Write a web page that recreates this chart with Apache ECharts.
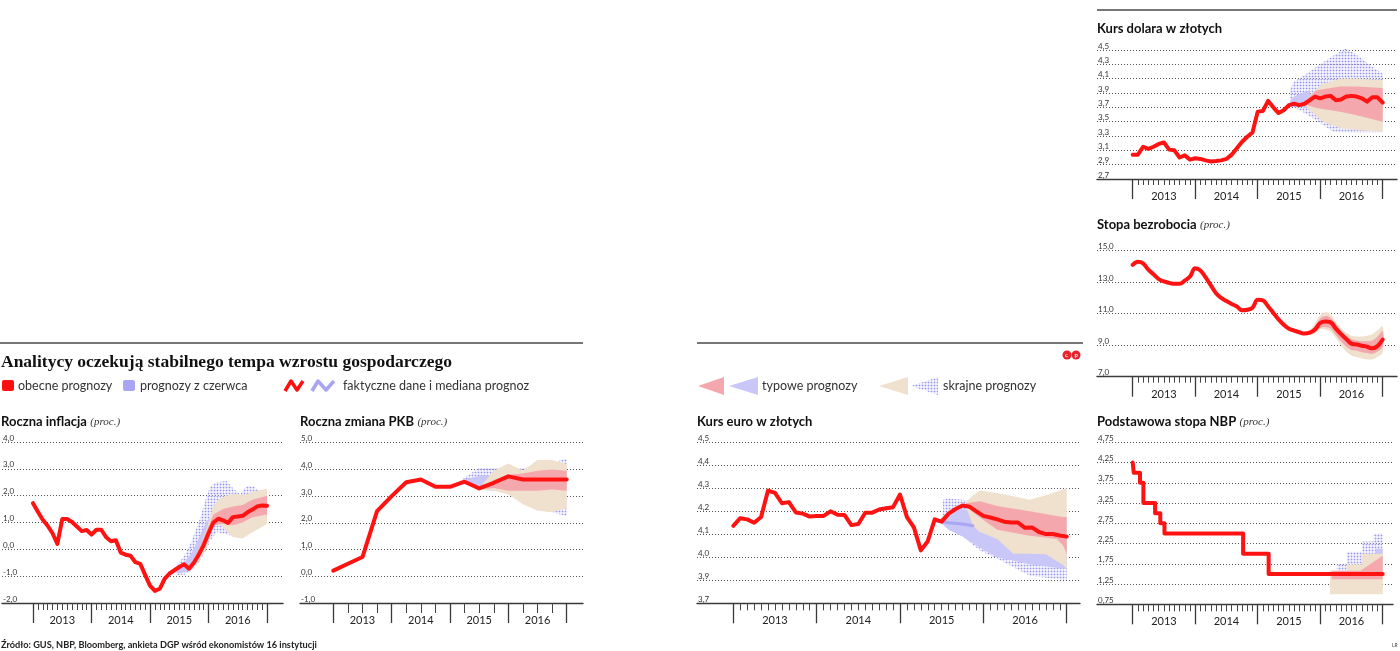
<!DOCTYPE html>
<html><head><meta charset="utf-8">
<script src="https://cdn.jsdelivr.net/npm/echarts@6/dist/echarts.min.js"></script>
<style>html,body{margin:0;padding:0;background:#fff}#c{width:1400px;height:651px}</style>
</head><body><div id="c"></div>
<script>
// ---------------- DATA ----------------
const years = ['2013', '2014', '2015', '2016'];

// Roczna inflacja (monthly, index 0 = Jan 2013)
const inflTicks = ['-2,0', '-1,0', '0,0', '1,0', '2,0', '3,0', '4,0'];
const inflValues = [1.72, 1.4, 1.1, 0.88, 0.6, 0.2, 1.13, 1.13, 1.02, 0.85, 0.68, 0.72, 0.55, 0.73, 0.73, 0.45, 0.3, 0.34,
  -0.12, -0.2, -0.24, -0.48, -0.54, -0.95, -1.35, -1.55, -1.47, -1.1, -0.9, -0.78, -0.66, -0.56, -0.72,
  -0.5, -0.2, 0.15, 0.6, 1.0, 1.14, 1.08, 0.98, 1.2, 1.22, 1.25, 1.38, 1.48, 1.6, 1.63, 1.62];
const inflExtJuneX = [29.5, 31, 32.5, 34.2, 35.6, 36.3, 37.7, 39.7, 41.1, 42.5, 43.8, 45.2, 46.2];
const inflExtJuneHi = [-0.6, -0.25, 0.28, 1.12, 1.96, 2.33, 2.5, 2.55, 2.27, 2.05, 2.35, 2.35, 2.2];
const inflExtJuneLo = [-0.95, -0.95, -0.8, -0.45, 0.0, 0.3, 0.65, 0.55, 0.5, 0.5, 0.65, 0.8, 0.9];
const inflTypJuneX = [29.5, 31, 32.5, 34, 35.5, 37];
const inflTypJuneHi = [-0.7, -0.5, -0.15, 0.4, 1.0, 1.3];
const inflTypJuneLo = [-0.9, -0.85, -0.75, -0.4, 0.1, 0.8];
const inflExtNowX = [32, 33.6, 35.6, 37, 38.4, 41, 43, 45, 48];
const inflExtNowHi = [-0.72, -0.2, 0.76, 1.6, 1.9, 2.08, 2.02, 2.14, 2.26];
const inflExtNowLo = [-0.72, -0.57, 0.04, 0.88, 0.94, 0.46, 0.4, 0.64, 0.94];
const inflTypNowX = [32, 33, 35, 37, 39, 41, 43, 45, 48];
const inflTypNowHi = [-0.72, -0.35, 0.4, 1.3, 1.5, 1.6, 1.65, 1.85, 2.0];
const inflTypNowLo = [-0.72, -0.6, 0.0, 0.9, 0.95, 0.9, 1.0, 1.2, 1.3];

// Roczna zmiana PKB (quarterly, index 0 = Q1 2013)
const pkbTicks = ['-1,0', '0,0', '1,0', '2,0', '3,0', '4,0', '5,0'];
const pkbValues = [0.21, 0.47, 0.72, 2.44, 3.0, 3.52, 3.62, 3.35, 3.35, 3.54, 3.29, 3.5, 3.74, 3.62, 3.62, 3.62, 3.62];
const pkbExtJuneX = [8.5, 9, 10, 11, 12, 13, 14, 15, 16];
const pkbExtJuneHi = [3.45, 3.7, 4.05, 4.05, 4.05, 4.05, 4.1, 4.25, 4.4];
const pkbExtJuneLo = [3.45, 3.45, 3.25, 3.2, 3.2, 2.9, 2.5, 2.4, 2.25];
const pkbTypJuneX = [8.5, 9, 10, 11];
const pkbTypJuneHi = [3.45, 3.62, 3.75, 3.8];
const pkbTypJuneLo = [3.45, 3.45, 3.3, 3.3];
const pkbExtNowX = [10, 11, 12, 13, 14, 15, 16];
const pkbExtNowHi = [3.3, 3.95, 4.22, 3.95, 4.35, 4.35, 4.2];
const pkbExtNowLo = [3.25, 3.2, 3.06, 2.7, 2.45, 2.4, 2.55];
const pkbTypNowX = [10, 11, 12, 13, 14, 15, 16];
const pkbTypNowHi = [3.3, 3.6, 3.8, 3.85, 3.95, 4.0, 3.95];
const pkbTypNowLo = [3.25, 3.3, 3.2, 3.2, 3.2, 3.25, 3.2];

// Kurs euro w złotych (monthly)
const euroTicks = ['3,7', '3,9', '4,0', '4,1', '4,2', '4,3', '4,4', '4,5'];
const euroValues = [4.137, 4.17, 4.165, 4.15, 4.175, 4.29, 4.28, 4.235, 4.24, 4.195, 4.19, 4.177, 4.18, 4.18, 4.2, 4.185,
  4.184, 4.14, 4.145, 4.194, 4.194, 4.208, 4.213, 4.218, 4.273, 4.175, 4.13, 4.03, 4.07, 4.165, 4.155, 4.19,
  4.21, 4.225, 4.22, 4.2, 4.18, 4.173, 4.165, 4.155, 4.151, 4.151, 4.128, 4.13, 4.11, 4.101, 4.101, 4.095, 4.09];
const euroExtJuneX = [30.2, 31, 33, 35.5, 38, 42.7, 48];
const euroExtJuneHi = [4.25, 4.255, 4.25, 4.24, 4.24, 4.24, 4.1];
const euroExtJuneLo = [4.15, 4.12, 4.09, 4.03, 3.994, 3.92, 3.9];
const euroTypJuneX = [29.5, 31, 33, 35, 38, 42.7, 47.5, 48];
const euroTypJuneHi = [4.16, 4.2, 4.21, 4.2, 4.15, 4.1, 4.05, 4.05];
const euroTypJuneLo = [4.16, 4.12, 4.09, 4.05, 4.0, 3.97, 3.95, 3.95];
const euroMedJuneX = [29.3, 31, 33, 34.5];
const euroMedJuneY = [4.158, 4.15, 4.145, 4.137];
const euroExtNowX = [33.5, 34.5, 35.5, 38, 40.3, 42.7, 45, 47.5, 48];
const euroExtNowHi = [4.24, 4.27, 4.29, 4.28, 4.265, 4.25, 4.27, 4.295, 4.3];
const euroExtNowLo = [4.22, 4.137, 4.11, 4.08, 4.015, 4.015, 4.013, 3.965, 3.95];
const euroTypNowX = [33.5, 35.5, 38, 42.7, 46.6, 47.5, 48];
const euroTypNowHi = [4.235, 4.244, 4.223, 4.2, 4.18, 4.175, 4.175];
const euroTypNowLo = [4.22, 4.173, 4.12, 4.094, 4.08, 4.05, 4.015];

// Podstawowa stopa NBP (step line, month index of each change)
const nbpTicks = ['0,75', '1,25', '1,75', '2,25', '2,75', '3,25', '3,75', '4,25', '4,75'];
const nbpMonths = [0, 0.2, 1.4, 2.05, 4.3, 5.3, 6.1, 21.2, 26.1, 48];
const nbpRates = [4.25, 4.0, 3.75, 3.25, 3.0, 2.75, 2.5, 2.0, 1.5, 1.5];
const nbpExtJuneX = [39.2, 41.1, 41.1, 44, 44, 46.2, 46.2, 48];
const nbpExtJuneHi = [1.75, 1.75, 2.05, 2.05, 2.3, 2.3, 2.5, 2.5];
const nbpExtJuneLo = [1.5, 1.5, 1.5, 1.5, 1.5, 1.5, 1.5, 1.5];
const nbpTypJuneX = [46.6, 48];
const nbpTypJuneHi = [2.12, 2.12];
const nbpTypJuneLo = [1.98, 1.98];
const nbpExtNowX = [37.9, 41.1, 41.1, 44, 44, 48];
const nbpExtNowHi = [1.58, 1.58, 1.73, 1.73, 2.0, 2.0];
const nbpExtNowLo = [1.0, 1.0, 1.0, 1.0, 1.0, 1.0];
const nbpTypNowX = [38.2, 43.7, 48];
const nbpTypNowHi = [1.58, 1.58, 1.95];
const nbpTypNowLo = [1.37, 1.37, 1.37];

// Kurs dolara w złotych (monthly)
const usdTicks = ['2,7', '2,9', '3,1', '3,3', '3,5', '3,7', '3,9', '4,1', '4,3', '4,5'];
const usdValues = [3.04, 3.04, 3.15, 3.12, 3.15, 3.19, 3.21, 3.11, 3.10, 3.0, 3.03, 2.97, 2.99, 2.98, 2.96, 2.945, 2.95,
  2.96, 2.98, 3.04, 3.13, 3.22, 3.29, 3.35, 3.64, 3.65, 3.79, 3.70, 3.62, 3.66, 3.73, 3.75, 3.73, 3.75, 3.8,
  3.85, 3.826, 3.85, 3.86, 3.8, 3.81, 3.85, 3.86, 3.85, 3.826, 3.78, 3.84, 3.84, 3.765];
const usdExtJuneX = [30.2, 31, 33, 36, 38.5, 40.8, 42, 44, 46, 48];
const usdExtJuneHi = [3.95, 4.06, 4.15, 4.3, 4.42, 4.52, 4.48, 4.38, 4.27, 4.17];
const usdExtJuneLo = [3.71, 3.7, 3.62, 3.48, 3.36, 3.35, 3.35, 3.35, 3.35, 3.35];
const usdTypJuneX = [30.2, 31, 32.5, 34];
const usdTypJuneHi = [3.78, 3.85, 3.9, 3.94];
const usdTypJuneLo = [3.74, 3.72, 3.7, 3.68];
const usdExtNowX = [33, 34, 36.5, 39.8, 43, 48];
const usdExtNowHi = [3.75, 3.86, 4.03, 4.1, 4.1, 4.08];
const usdExtNowLo = [3.75, 3.66, 3.5, 3.41, 3.38, 3.36];
const usdTypNowX = [33, 34, 35.3, 39.8, 43, 48];
const usdTypNowHi = [3.75, 3.85, 3.94, 3.99, 3.99, 3.97];
const usdTypNowLo = [3.75, 3.72, 3.69, 3.64, 3.59, 3.5];

// Stopa bezrobocia (monthly)
const unempTicks = ['7,0', '9,0', '11,0', '13,0', '15,0'];
const unempValues = [14.1, 14.3, 14.2, 13.8, 13.5, 13.2, 13.05, 12.96, 12.9, 12.9, 13.1, 13.36, 13.88, 13.75, 13.3, 12.8,
  12.3, 12.0, 11.8, 11.62, 11.46, 11.22, 11.25, 11.38, 11.88, 11.84, 11.46, 11.05, 10.64, 10.3, 10.05, 9.93,
  9.82, 9.74, 9.8, 10.0, 10.41, 10.5, 10.45, 10.05, 9.7, 9.4, 9.1, 9.04, 8.97, 8.9, 8.8, 8.94, 9.36];
const unempExtNowX = [34, 35, 36, 37, 38, 39, 40, 41, 42, 43, 44, 45, 46, 47, 48];
const unempExtNowHi = [9.85, 10.4, 10.9, 11.1, 10.95, 10.5, 10.1, 9.8, 9.6, 9.55, 9.55, 9.6, 9.7, 9.95, 10.2];
const unempExtNowLo = [9.7, 9.75, 10.0, 10.0, 9.85, 9.45, 9.0, 8.6, 8.35, 8.25, 8.15, 8.1, 8.1, 8.25, 8.55];
const unempTypNowX = [34, 35, 36, 37, 38, 39, 40, 41, 42, 43, 44, 45, 46, 47, 48];
const unempTypNowHi = [9.85, 10.2, 10.7, 10.85, 10.75, 10.35, 9.95, 9.6, 9.4, 9.3, 9.25, 9.25, 9.3, 9.55, 9.9];
const unempTypNowLo = [9.75, 9.85, 10.1, 10.15, 10.05, 9.65, 9.25, 8.9, 8.7, 8.65, 8.55, 8.5, 8.45, 8.6, 8.9];

// ---------------- STYLE ----------------
const RED = '#ff1212', PINK = '#f4a8ae', BEIGE = '#efe1cd', LAV = '#c9c6f8', LAVLINE = '#a9a6f2';
const SANS = 'Lato';

function makeDots() {
  const c = document.createElement('canvas');
  c.width = 3; c.height = 3;
  const g = c.getContext('2d');
  g.fillStyle = 'rgba(218,217,250,0.35)';
  g.fillRect(0, 0, 3, 3);
  g.fillStyle = 'rgba(128,125,234,0.8)';
  g.fillRect(1, 1, 1, 1);
  g.fillStyle = 'rgba(150,148,240,0.28)';
  g.fillRect(0, 1, 1, 1); g.fillRect(1, 0, 1, 1); g.fillRect(2, 1, 1, 1); g.fillRect(1, 2, 1, 1);
  return c;
}
const DOTS = { image: makeDots(), repeat: 'repeat' };

// panel layout: frame [left, top, width, height], tick span [x0, x1]
const panels = [
  { frame: [0, 442, 283, 161], ticks: [33, 267], y: [-2, 4, 1], labels: inflTicks, n: 48, major: 12, minorLen: 7 },
  { frame: [300, 442.7, 283, 160.3], ticks: [333.3, 566.7], y: [-1, 5, 1], labels: pkbTicks, n: 16, major: 4, minorLen: 10 },
  { frame: [697, 442.3, 383, 161], ticks: [733.3, 1066.7], y: [3.8, 4.5, 0.1], labels: euroTicks, n: 48, major: 12, minorLen: 7 },
  { frame: [1097, 442.3, 296, 162], ticks: [1132.7, 1382.7], y: [0.75, 4.75, 0.5], labels: nbpTicks, n: 48, major: 12, minorLen: 7 },
  { frame: [1097, 50, 300, 129], ticks: [1132.7, 1382.7], y: [2.7, 4.5, 0.2], labels: usdTicks, n: 48, major: 12, minorLen: 6 },
  { frame: [1097, 250.7, 300, 126], ticks: [1132.7, 1382.7], y: [7, 15, 2], labels: unempTicks, n: 48, major: 12, minorLen: 6 }
];

const grid = [], xAxis = [], yAxis = [], series = [];
panels.forEach((p, i) => {
  const [L, T, W, H] = p.frame;
  const [ymin, ymax, yint] = p.y;
  grid.push({ left: L, top: T, width: W, height: H, containLabel: false });
  grid.push({ left: p.ticks[0], top: T, width: p.ticks[1] - p.ticks[0], height: H, containLabel: false });
  xAxis.push({ type: 'value', gridIndex: 2 * i, min: 0, max: 1, position: 'bottom',
    axisLine: { show: true, onZero: false, lineStyle: { color: '#3a3a3a', width: 1.4 } },
    axisTick: { show: false }, axisLabel: { show: false }, splitLine: { show: false } });
  xAxis.push({ type: 'value', gridIndex: 2 * i + 1, min: 0, max: p.n, interval: p.major, position: 'bottom',
    axisLine: { show: false, onZero: false },
    axisTick: { show: true, length: 20, lineStyle: { color: '#3a3a3a', width: 1.3 } },
    minorTick: { show: true, splitNumber: p.major, length: p.minorLen, lineStyle: { color: '#444', width: 1 } },
    axisLabel: { show: false }, splitLine: { show: false }, minorSplitLine: { show: false } });
  xAxis.push({ type: 'category', gridIndex: 2 * i + 1, data: years, position: 'bottom', offset: 0, boundaryGap: true,
    axisLine: { show: false, onZero: false }, axisTick: { show: false },
    axisLabel: { margin: 12, fontSize: 11, color: '#222', fontFamily: SANS } });
  yAxis.push({ type: 'value', gridIndex: 2 * i, min: ymin, max: ymax, interval: yint,
    axisLine: { show: false }, axisTick: { show: false },
    splitLine: { show: true, lineStyle: { type: [1, 2], color: '#555', width: 1 } },
    axisLabel: { inside: true, align: 'left', verticalAlign: 'bottom', margin: 1, fontSize: 8, color: '#333',
      fontFamily: SANS, formatter: v => p.labels[Math.round((v - ymin) / yint)] || '' } });
  yAxis.push({ type: 'value', gridIndex: 2 * i + 1, min: ymin, max: ymax, show: false });
});

function band(i, X, Lo, Hi, fill, z, smooth) {
  series.push({
    type: 'custom', xAxisIndex: 3 * i + 1, yAxisIndex: 2 * i + 1, z: z, silent: true, clip: false, animation: false,
    data: X.map((x, k) => [x, Lo[k], Hi[k]]),
    encode: { x: 0, y: [1, 2] },
    renderItem: (params, api) => {
      if (params.dataIndex !== 0) return null;
      const top = X.map((x, k) => api.coord([x, Hi[k]]));
      const bot = X.map((x, k) => api.coord([x, Lo[k]])).reverse();
      return { type: 'polygon', shape: { points: top.concat(bot), smooth: smooth ? 0.35 : 0 },
        style: { fill: fill, stroke: null } };
    }
  });
}
function line(i, X, Y, color, width, z, extra) {
  series.push(Object.assign({
    type: 'line', xAxisIndex: 3 * i + 1, yAxisIndex: 2 * i + 1, z: z, silent: true, clip: false, animation: false,
    data: X.map((x, k) => [x, Y[k]]), symbol: 'none', showSymbol: false,
    lineStyle: { color: color, width: width, join: 'round', cap: 'round' }
  }, extra || {}));
}
const idx = arr => arr.map((_, k) => k);

// Panel 0: inflation
band(0, inflExtJuneX, inflExtJuneLo, inflExtJuneHi, DOTS, 1);
band(0, inflTypJuneX, inflTypJuneLo, inflTypJuneHi, LAV, 2);
band(0, inflExtNowX, inflExtNowLo, inflExtNowHi, BEIGE, 3);
band(0, inflTypNowX, inflTypNowLo, inflTypNowHi, PINK, 4);
line(0, idx(inflValues), inflValues, RED, 4, 10);
// Panel 1: PKB
band(1, pkbExtJuneX, pkbExtJuneLo, pkbExtJuneHi, DOTS, 1);
band(1, pkbTypJuneX, pkbTypJuneLo, pkbTypJuneHi, LAV, 2);
band(1, pkbExtNowX, pkbExtNowLo, pkbExtNowHi, BEIGE, 3);
band(1, pkbTypNowX, pkbTypNowLo, pkbTypNowHi, PINK, 4);
line(1, idx(pkbValues), pkbValues, RED, 4, 10);
// Panel 2: EUR
band(2, euroExtJuneX, euroExtJuneLo, euroExtJuneHi, DOTS, 1);
band(2, euroTypJuneX, euroTypJuneLo, euroTypJuneHi, LAV, 2);
band(2, euroExtNowX, euroExtNowLo, euroExtNowHi, BEIGE, 3);
band(2, euroTypNowX, euroTypNowLo, euroTypNowHi, PINK, 4);
line(2, euroMedJuneX, euroMedJuneY, LAVLINE, 3, 5);
line(2, idx(euroValues), euroValues, RED, 4, 10);
// Panel 3: NBP
band(3, nbpExtJuneX, nbpExtJuneLo, nbpExtJuneHi, DOTS, 1);
band(3, nbpTypJuneX, nbpTypJuneLo, nbpTypJuneHi, LAV, 2);
band(3, nbpExtNowX, nbpExtNowLo, nbpExtNowHi, BEIGE, 3);
band(3, nbpTypNowX, nbpTypNowLo, nbpTypNowHi, PINK, 4);
line(3, nbpMonths, nbpRates, RED, 4, 10, { step: 'end' });
// Panel 4: USD
band(4, usdExtJuneX, usdExtJuneLo, usdExtJuneHi, DOTS, 1);
band(4, usdTypJuneX, usdTypJuneLo, usdTypJuneHi, LAV, 2);
band(4, usdExtNowX, usdExtNowLo, usdExtNowHi, BEIGE, 3);
band(4, usdTypNowX, usdTypNowLo, usdTypNowHi, PINK, 4);
line(4, idx(usdValues), usdValues, RED, 4, 10);
// Panel 5: unemployment
band(5, unempExtNowX, unempExtNowLo, unempExtNowHi, BEIGE, 3, true);
band(5, unempTypNowX, unempTypNowLo, unempTypNowHi, PINK, 4, true);
line(5, idx(unempValues), unempValues, RED, 4, 10, { smooth: 0.4 });

// ---------------- TEXT & DECOR ----------------
function title(x, y, main, sub) {
  return { type: 'text', x: x, y: y, silent: true, style: {
    text: sub ? '{a|' + main + '} {b|' + sub + '}' : '{a|' + main + '}',
    verticalAlign: 'middle',
    rich: {
      a: { fontFamily: SANS, fontWeight: 'bold', fontSize: 13, fill: '#111', color: '#111' },
      b: { fontFamily: 'Liberation Serif', fontStyle: 'italic', fontSize: 11, fill: '#333', color: '#333' }
    } } };
}
function txt(x, y, s, size, extra) {
  return { type: 'text', x: x, y: y, silent: true, style: Object.assign({ text: s, fontFamily: SANS, fontSize: size,
    fill: '#333', verticalAlign: 'middle' }, extra || {}) };
}
const graphics = [
  { type: 'line', silent: true, shape: { x1: 0, y1: 343, x2: 583, y2: 343 }, style: { stroke: '#777', lineWidth: 2 } },
  { type: 'line', silent: true, shape: { x1: 697, y1: 343, x2: 1083, y2: 343 }, style: { stroke: '#777', lineWidth: 2 } },
  { type: 'line', silent: true, shape: { x1: 1097, y1: 10, x2: 1397, y2: 10 }, style: { stroke: '#777', lineWidth: 2 } },
  txt(1, 362, 'Analitycy oczekują stabilnego tempa wzrostu gospodarczego', 17.5,
    { fontFamily: 'Liberation Serif', fontWeight: 'bold', fill: '#111' }),
  // legend left
  { type: 'rect', silent: true, shape: { x: 2, y: 380, width: 12, height: 11, r: 2 }, style: { fill: '#ff1010' } },
  txt(18, 386, 'obecne prognozy', 12.5),
  { type: 'rect', silent: true, shape: { x: 123, y: 380, width: 12, height: 11, r: 2 }, style: { fill: '#a9a5f5' } },
  txt(140, 386, 'prognozy z czerwca', 12.5),
  { type: 'polyline', silent: true, shape: { points: [[285, 391], [291, 381], [297, 390], [303, 381]] },
    style: { stroke: '#ff1010', lineWidth: 3.5, fill: null, lineJoin: 'round' } },
  { type: 'polyline', silent: true, shape: { points: [[312, 391], [318, 381], [326, 390], [334, 381]] },
    style: { stroke: '#a9a5f5', lineWidth: 3.5, fill: null, lineJoin: 'round' } },
  txt(343, 386, 'faktyczne dane i mediana prognoz', 12.5),
  // legend right
  { type: 'polygon', silent: true, shape: { points: [[698, 386], [724, 377], [724, 395]] }, style: { fill: PINK } },
  { type: 'polygon', silent: true, shape: { points: [[729, 386], [758, 377], [758, 395]] }, style: { fill: LAV } },
  txt(762, 386, 'typowe prognozy', 12.5),
  { type: 'polygon', silent: true, shape: { points: [[879, 386], [908, 377], [908, 395]] }, style: { fill: BEIGE } },
  { type: 'polygon', silent: true, shape: { points: [[911, 386], [938, 377], [938, 395]] }, style: { fill: DOTS } },
  txt(943, 386, 'skrajne prognozy', 12.5),
  // logo
  { type: 'circle', silent: true, shape: { cx: 1067, cy: 355, r: 4.5 }, style: { fill: '#e8232c' } },
  { type: 'circle', silent: true, shape: { cx: 1076, cy: 355, r: 4.5 }, style: { fill: '#e8232c' } },
  txt(1065, 355, 'c', 6, { fill: '#fff', fontWeight: 'bold' }),
  txt(1074.5, 355, 'p', 6, { fill: '#fff', fontWeight: 'bold' }),
  // panel titles
  title(1, 422, 'Roczna inflacja', '(proc.)'),
  title(300, 422, 'Roczna zmiana PKB', '(proc.)'),
  title(697, 422, 'Kurs euro w złotych', null),
  title(1097, 422, 'Podstawowa stopa NBP', '(proc.)'),
  title(1097, 29, 'Kurs dolara w złotych', null),
  title(1097, 225, 'Stopa bezrobocia', '(proc.)'),
  // footer
  txt(1, 645, 'Źródło: GUS, NBP, Bloomberg, ankieta DGP wśród ekonomistów 16 instytucji', 9.2, { fontWeight: 'bold', fill: '#222' }),
  txt(1392, 645, 'LR', 5, { fill: '#444' })
];

const chart = echarts.init(document.getElementById('c'), null, { renderer: 'canvas' });
chart.setOption({
  animation: false,
  backgroundColor: '#fff',
  grid: grid, xAxis: xAxis, yAxis: yAxis, series: series, graphic: graphics
});
</script></body></html>
